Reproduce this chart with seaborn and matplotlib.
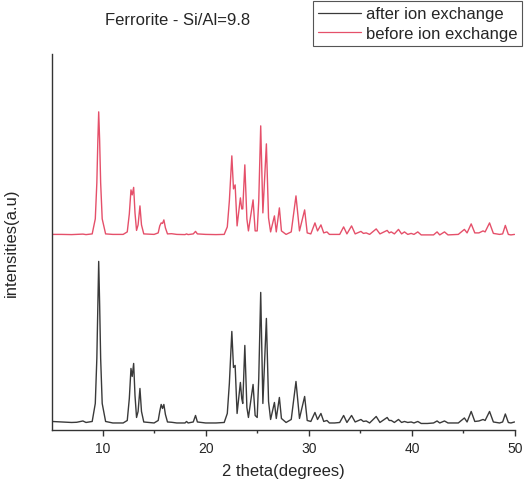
import matplotlib
matplotlib.use("Agg")
import matplotlib.pyplot as plt
from matplotlib.ticker import MultipleLocator
from matplotlib.lines import Line2D
import seaborn as sns
import pandas as pd

# ---- data (2 theta in degrees, intensity in arbitrary counts) ----
two_theta = [5.1, 6.0, 7.0, 7.5, 8.1, 8.4, 9.0, 9.3, 9.45, 9.55, 9.63, 9.72, 9.82, 9.97, 10.3,
             11.0, 12.0, 12.4, 12.6, 12.76, 12.88, 13.02, 13.15, 13.3, 13.45, 13.63, 13.78, 14.0,
             15.0, 15.4, 15.55, 15.69, 15.82, 15.95, 16.1, 16.3, 16.7, 17.2, 18.0, 18.15, 18.3,
             18.8, 19.02, 19.2, 20.0, 21.0, 21.8, 22.1, 22.3, 22.54, 22.7, 22.86, 23.05, 23.37,
             23.5, 23.6, 23.8, 24.0, 24.15, 24.6, 24.8, 25.0, 25.15, 25.34, 25.55, 25.89, 26.1,
             26.3, 26.67, 26.85, 27.15, 27.35, 27.8, 28.3, 28.76, 29.1, 29.6, 29.85, 30.2, 30.6,
             30.85, 31.18, 31.45, 31.76, 32.0, 32.5, 33.0, 33.38, 33.7, 34.15, 34.5, 35.06, 35.3,
             35.57, 35.9, 36.54, 36.9, 37.6, 37.8, 38.0, 38.3, 38.7, 39.0, 39.28, 39.6, 39.93,
             40.2, 40.57, 40.9, 41.5, 42.1, 42.44, 42.7, 43.16, 43.5, 44.5, 45.09, 45.35, 45.75,
             46.1, 46.5, 46.9, 47.1, 47.53, 47.9, 48.5, 48.8, 49.06, 49.35, 49.6, 49.95]

after_ion_exchange = [20, 15, 10, 12, 25, 10, 20, 200, 650, 1200, 1620, 1200, 650, 200, 20,
                      5, 5, 30, 250, 550, 470, 600, 280, 60, 120, 350, 120, 15,
                      5, 30, 120, 190, 150, 190, 90, 15, 12, 5, 5, 20, 5,
                      15, 80, 15, 5, 5, 10, 100, 400, 920, 560, 580, 100, 410,
                      250, 200, 780, 160, 60, 390, 80, 60, 450, 1310, 200, 1050, 220,
                      40, 210, 50, 260, 50, 10, 40, 420, 50, 270, 30, 20, 110,
                      40, 100, 20, 30, 5, 5, 10, 80, 10, 80, 15, 40, 20,
                      25, 5, 70, 10, 60, 30, 30, 10, 40, 10, 20, 10, 15,
                      5, 20, 0, 0, 5, 25, 5, 25, 5, 5, 55, 15, 120,
                      20, 25, 40, 30, 120, 15, 5, 15, 95, 10, 5, 15]

before_ion_exchange = [5, 5, 3, 5, 8, 3, 10, 160, 520, 950, 1230, 950, 520, 160, 10,
                       5, 5, 30, 210, 450, 400, 475, 220, 45, 100, 290, 100, 10,
                       5, 20, 90, 120, 115, 150, 70, 10, 12, 5, 3, 10, 3,
                       10, 35, 10, 5, 3, 5, 80, 340, 790, 460, 500, 90, 370,
                       260, 260, 700, 160, 40, 350, 40, 40, 340, 1090, 220, 910, 170,
                       30, 190, 30, 270, 40, 5, 30, 390, 40, 250, 20, 10, 120,
                       40, 100, 20, 30, 5, 5, 5, 80, 10, 90, 10, 35, 15,
                       20, 5, 60, 10, 45, 20, 30, 10, 55, 10, 30, 5, 15,
                       5, 30, 0, 0, 0, 30, 0, 30, 0, 5, 55, 20, 110,
                       20, 20, 40, 30, 120, 15, 5, 10, 95, 5, 0, 5]

series_labels = ["after ion exchange", "before ion exchange"]
title_text = "Ferrorite - Si/Al=9.8"
x_label = "2 theta(degrees)"
y_label = "intensities(a.u)"
x_ticks = [10, 20, 30, 40, 50]

# ---- styling ----
sns.set_style("white")
plt.rcParams["font.family"] = ["Liberation Sans", "DejaVu Sans"]

black_col = "#3a3a3a"
red_col = "#e5506a"
stack_offset = 1885  # vertical shift of upper trace

df_after = pd.DataFrame({"two_theta": two_theta, "intensity": after_ion_exchange})
df_before = pd.DataFrame({"two_theta": two_theta,
                          "intensity": [v + stack_offset for v in before_ion_exchange]})

fig = plt.figure(figsize=(5.25, 4.81), dpi=100)
ax = fig.add_axes([0.099, 0.104, 0.882, 0.782])

sns.lineplot(data=df_after, x="two_theta", y="intensity", ax=ax, color=black_col,
             lw=1.0, estimator=None, sort=False)
sns.lineplot(data=df_before, x="two_theta", y="intensity", ax=ax, color=red_col,
             lw=1.0, estimator=None, sort=False)

ax.set_xlim(5.1, 50)
ax.set_ylim(-65, 3695)
ax.set_xticks(x_ticks)
ax.xaxis.set_minor_locator(MultipleLocator(5))
ax.set_yticks([])
ax.tick_params(axis="x", which="major", direction="out", length=4, width=1,
               color="#333333", labelsize=10, pad=4, bottom=True)
ax.tick_params(axis="x", which="minor", direction="out", length=2.5, width=1,
               color="#333333", bottom=True)
ax.set_xlabel(x_label, fontsize=12, labelpad=6)
ax.set_ylabel(y_label, fontsize=12, labelpad=24)

for side in ["top", "right"]:
    ax.spines[side].set_visible(False)
for side in ["left", "bottom"]:
    ax.spines[side].set_color("#333333")
    ax.spines[side].set_linewidth(1.0)

fig.text(0.338, 0.958, title_text, ha="center", va="center", fontsize=12)

handles = [Line2D([], [], color=black_col, lw=0.9), Line2D([], [], color=red_col, lw=0.9)]
leg = fig.legend(handles, series_labels, loc="upper right", bbox_to_anchor=(0.995, 0.995),
                 fontsize=12, frameon=True, fancybox=False, framealpha=1,
                 edgecolor="#555555", handlelength=2.6, handletextpad=0.3,
                 borderpad=0.3, labelspacing=0.25, borderaxespad=0)
leg.get_frame().set_linewidth(0.8)

fig.savefig("out.png", dpi=100)
